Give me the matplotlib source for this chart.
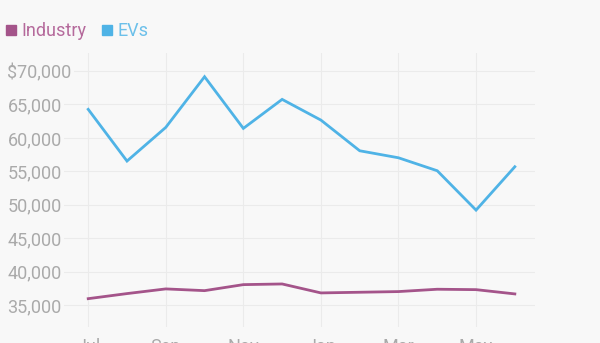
import matplotlib.pyplot as plt
from matplotlib.lines import Line2D

# data (monthly, Jul -> Jun)
months = ['Jul', 'Aug', 'Sep', 'Oct', 'Nov', 'Dec', 'Jan', 'Feb', 'Mar', 'Apr', 'May', 'Jun']
industry = [35940, 36700, 37400, 37140, 38040, 38140, 36800, 36900, 37000, 37350, 37290, 36650]
evs = [64270, 56530, 61570, 69150, 61420, 65760, 62660, 58070, 57020, 55080, 49190, 55680]
y_ticks = [35000, 40000, 45000, 50000, 55000, 60000, 65000, 70000]
y_labels = ['35,000', '40,000', '45,000', '50,000', '55,000', '60,000', '65,000', '$70,000']

IND_COLOR = '#a4548a'
EV_COLOR = '#4fb3e6'
BG = '#f8f8f8'

plt.rcParams['font.family'] = ['Roboto', 'DejaVu Sans']

fig = plt.figure(figsize=(6, 3.43), dpi=100, facecolor=BG)
ax = fig.add_axes([63 / 600, 1 - 327 / 343, (535 - 63) / 600, (327 - 53) / 343])
ax.set_facecolor(BG)

x = list(range(len(months)))
ax.plot(x, industry, color=IND_COLOR, lw=2, solid_joinstyle='miter', zorder=3)
ax.plot(x, evs, color=EV_COLOR, lw=2, solid_joinstyle='miter', zorder=3)

ax.set_xlim(-0.65, 11.52)
ax.set_ylim(31700, 72700)

ax.set_xticks(x[::2])
ax.set_xticklabels(months[::2])
ax.set_yticks(y_ticks)
ax.set_yticklabels(y_labels)

ax.tick_params(axis='both', length=0, colors='#aaaaaa', labelsize=13)
ax.tick_params(axis='y', pad=40)
ax.tick_params(axis='x', pad=8)
for lab in ax.get_yticklabels():
    lab.set_horizontalalignment('left')
    lab.set_bbox(dict(facecolor=BG, edgecolor='none', pad=1.5))

ax.grid(True, color='#ebebeb', lw=0.8)
ax.set_axisbelow(True)
for s in ax.spines.values():
    s.set_visible(False)

# legend with square swatches
handles = [Line2D([], [], marker='s', ls='none', color=IND_COLOR, markersize=7.5),
           Line2D([], [], marker='s', ls='none', color=EV_COLOR, markersize=7.5)]
leg = fig.legend(handles, ['Industry', 'EVs'], loc='center left',
                 bbox_to_anchor=(0.0, 1 - 31 / 343), ncol=2, frameon=False,
                 fontsize=13, handlelength=0.6, handletextpad=0.3,
                 columnspacing=0.8, borderaxespad=0, borderpad=0.3)
leg.get_texts()[0].set_color('#b56a9c')
leg.get_texts()[1].set_color('#6cc0ea')

fig.savefig('out.png', dpi=100, facecolor=BG)
